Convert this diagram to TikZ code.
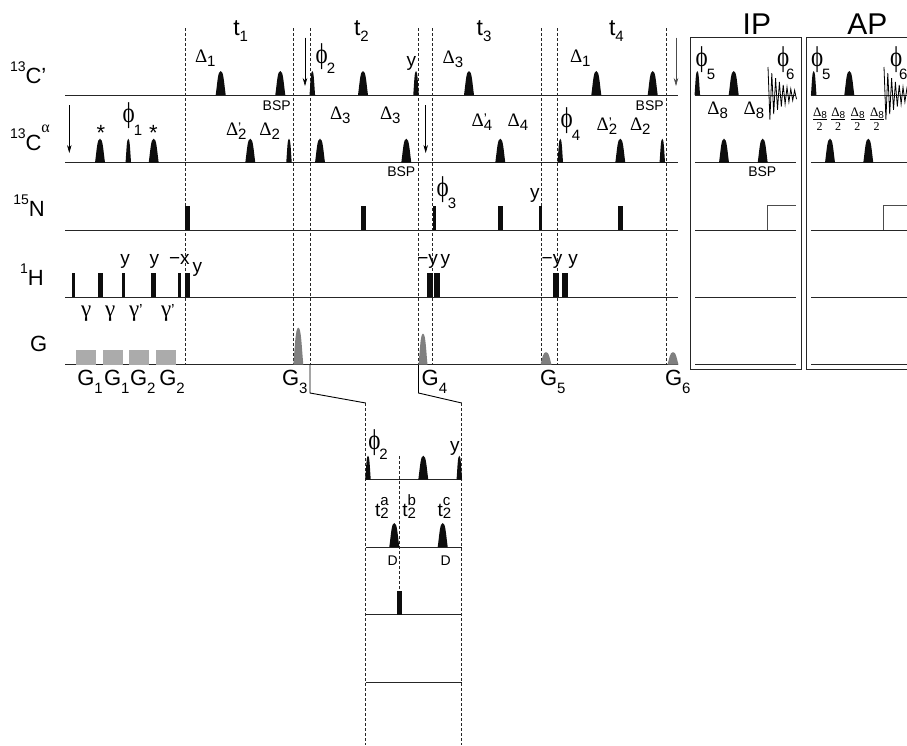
\documentclass[tikz,border=0pt]{standalone}
\usepackage{fontspec}
\setmainfont{Liberation Sans}
\newfontfamily\grk{Liberation Serif}
\usetikzlibrary{arrows.meta}
\newcommand{\fs}[1]{\fontsize{#1}{#1}\selectfont}
\newcommand{\dn}[2][4]{\raisebox{-#1pt}{\fs{15}#2}}
\newcommand{\iso}[1]{\raisebox{12pt}{\fs{14}#1}}
\newcommand{\dl}{{\grk\fs{19}Δ}}
\newcommand{\ph}{\scalebox{1.05}[1.3]{\grk\fs{22}ϕ}\kern-1pt}
\newcommand{\gm}{{\grk\fs{23}γ}}
\newcommand{\bell}[5][black!95]{\fill[#1] ({#2-#4/2},#3) .. controls ({#2-#4*0.32},{#3-#5*0.55}) and ({#2-#4*0.28},{#3-#5}) .. ({#2},{#3-#5}) .. controls ({#2+#4*0.28},{#3-#5}) and ({#2+#4*0.32},{#3-#5*0.55}) .. ({#2+#4/2},#3) -- cycle;}
\newcommand{\fid}[1]{\draw[fidline] plot[domain=0:15, samples=16] ({#1+\x*1.9},{95-28*exp(-\x*1.9/15)*cos(180*\x)});}
\begin{document}
\begin{tikzpicture}[
    x=1pt, y=-1pt,
    every node/.style={inner sep=0pt, outer sep=0pt, anchor=base west},
    lab/.style={font=\fs{22}},
    ysym/.style={font=\fs{19}},
    bsp/.style={font=\fs{14}},
    chan/.style={line width=0.8pt, black!85},
    guide/.style={line width=0.8pt, dash pattern=on 2.5pt off 2.5pt, black!85},
    link/.style={line width=0.9pt, black},
    flip/.style={-{Stealth[length=8pt, width=4.5pt]}, line width=0.6pt},
    framebox/.style={line width=0.9pt, black!85},
    fidline/.style={line width=0.8pt, black},
    hardp/.style={fill=black!95}
]
\useasboundingbox (0,0) rectangle (907,745);
\clip (0,0) rectangle (907,745);

\node[lab] (cp) at (10,83) {\iso{13}C'};
\node[lab] (ca) at (10,150) {\iso{13}C\raisebox{18pt}{\grk\fs{16}α}};
\node[lab] (nn) at (13.3,216.7) {\iso{15}N};
\node[lab] (hh) at (20,285) {\iso{1}H};
\node[lab] (gg) at (30,351.7) {G};

\foreach \y in {95,162.7,230,297,364.7} {
  \draw[chan] (65,\y) -- (678,\y);
  \draw[chan] (695,\y) -- (796.3,\y);
  \draw[chan] (811,\y) -- (907,\y);
}
\foreach \y in {479.7,547,614.7,682} \draw[chan] (365.7,\y) -- (461.7,\y);

\draw[framebox] (690.3,37.3) rectangle (801.3,369.3);
\draw[framebox] (907,37.3) -- (806,37.3) -- (806,369.3) -- (907,369.3);
\node[font=\fs{30}] (ip) at (742.7,34) {IP};
\node[font=\fs{30}] (ap) at (847.3,34) {AP};

\foreach \x in {185,293,310,418.5,432.7,541,557.7,666} \draw[guide] (\x,28) -- (\x,365);
\foreach \x in {365.7,461.7} \draw[guide] (\x,403) -- (\x,745);
\draw[guide] (399.3,456) -- (399.3,592);

\coordinate (fa) at (310,365);
\coordinate (fb) at (310,393);
\coordinate (fc) at (365.7,403);
\coordinate (fd) at (418.5,365);
\coordinate (fe) at (418.5,393);
\coordinate (ff) at (461.7,403);
\draw[link] (fa) -- (fb) -- (fc);
\draw[link] (fd) -- (fe) -- (ff);

\foreach \x/\a/\b in {305/37.7/86,69.3/105/153,425.7/105/153} \draw[flip] (\x,\a) -- (\x,\b);
\draw[flip, black!70] (676,37.7) -- (676,86);

\foreach \x in {220.7,280.3,363,469,596.3,652.7,733.7,849.3} \bell{\x}{95}{10}{24};
\foreach \x in {312.3,416,697.3,813.7} \bell{\x}{95}{5.5}{24};
\foreach \x in {100,153.7,250.3,320,406.3,500.3,620.3,724,762.7,830,868.3} \bell{\x}{162.7}{10}{24};
\foreach \x in {128.3,289,560.3,662.3} \bell{\x}{162.7}{5.5}{24};
\foreach \x in {368,459.3} \bell{\x}{479.7}{5.5}{24};
\bell{423.3}{479.7}{10}{24};
\foreach \x in {394.3,442.7} \bell{\x}{547}{10}{24};

\foreach \x/\w in {187.7/5.5,363.3/5,434.3/3.2,500.3/5,540.3/3,620.3/5} \fill[hardp] ({\x-\w/2},230) rectangle ({\x+\w/2},205.7);
\fill[hardp] (396.8,614.7) rectangle (401.8,591);
\foreach \x/\w in {73/3,100.7/5.5,123.7/3,153.7/5.5,179/3,187.7/5.5,430.3/6,437.3/6,555.7/6,565.3/6} \fill[hardp] ({\x-\w/2},297) rectangle ({\x+\w/2},272.7);

\foreach \a/\b in {76/96.3,102.7/123,129/149.3,155.7/176} \fill[black!33] (\a,364.7) rectangle (\b,349.7);
\foreach \x/\w/\h in {298.3/10/37,423/9/31,546/11/12.5,673/11/12.5} \bell[black!50]{\x}{364.7}{\w}{\h};

\draw[chan, black!70] (767.3,230) -- (767.3,205.7) -- (796.3,205.7);
\draw[chan, black!70] (883,230) -- (883,205.7) -- (907,205.7);
\fid{768}
\fid{884}

\foreach \n/\x in {1/233.3,2/354,3/476.7,4/609} \node[font=\fs{23}] (t\n) at (\x,35) {t\dn[6.5]{\n}};

\node (da) at (195,62) {\dl\dn{1}};
\node (db) at (226,135) {\dl\rlap{\raisebox{3pt}{\fs{14}'}}\dn{2}};
\node (dc) at (259.3,135) {\dl\dn{2}};
\node (dd) at (330,119.3) {\dl\dn{3}};
\node (de) at (380,119.3) {\dl\dn{3}};
\node (df) at (442.7,63.3) {\dl\dn{3}};
\node (dg) at (570,62) {\dl\dn{1}};
\node (dh) at (471.7,126.7) {\dl\rlap{\raisebox{3pt}{\fs{14}'}}\dn{4}};
\node (di) at (507.7,126.7) {\dl\dn{4}};
\node (dj) at (596.7,130.7) {\dl\rlap{\raisebox{3pt}{\fs{14}'}}\dn{2}};
\node (dk) at (630,130.7) {\dl\dn{2}};
\node (dm) at (707.3,114) {\dl\dn{8}};
\node (dn) at (743.7,114) {\dl\dn{8}};

\foreach \n/\x in {a/813,b/831.3,c/850.7,d/870} {
  \node (half\n) at (\x,116.7) {\grk\fs{13}Δ\raisebox{-2pt}{\fs{10}\rmfamily 8}};
  \draw[line width=0.6pt] (\x,119.3) -- ++(14,0);
  \node[font=\fs{12}\grk] (two\n) at (\x+3.7,130.7) {2};
}

\node (pa) at (122.7,122.7) {\ph\dn[13]{1}};
\node (pb) at (315.7,63.3) {\ph\dn[10]{2}};
\node (pc) at (436.7,196.7) {\ph\dn[12]{3}};
\node (pd) at (560.7,127.7) {\ph\dn[13]{4}};
\node (pe) at (695.7,66) {\ph\dn[13]{5}};
\node (pf) at (777,66) {\ph\kern-2pt\dn[13]{6}};
\node (pg) at (811,66) {\ph\dn[13]{5}};
\node (ph) at (890,66) {\ph\kern-2pt\dn[13]{6}};
\node (pi) at (368.3,449.3) {\ph\dn[10]{2}};

\foreach \n/\x/\y/\s in {a/406.7/66/y,b/530/198/y,c/120.3/264/y,d/149.7/264/y,e/169/264/{−x},f/192.7/272.7/y,g/417.3/264/{−y},h/440.7/264/y,i/541.7/264/{−y},j/568.3/264/y,k/450/451/y} \node[ysym] (y\n) at (\x,\y) {\s};

\foreach \n/\x in {a/96.5,b/149.2} \node[font=\fs{22}] (star\n) at (\x,140) {*};

\node (ga) at (81,316) {\gm};
\node (gb) at (105,316) {\gm};
\node (gc) at (129,316) {\gm\raisebox{1pt}{\fs{16}'}};
\node (gd) at (161,316) {\gm\raisebox{1pt}{\fs{16}'}};

\foreach \n/\x/\y in {a/262.7/110,b/387.3/176.7,c/635.7/110,d/748.3/176.7} \node[bsp] (bsp\n) at (\x,\y) {BSP};

\foreach \n/\t/\x in {a/1/77.3,b/1/104,c/2/130,d/2/159.3,e/3/282,f/4/421.7,g/5/540,h/6/665} \node[lab] (grad\n) at (\x,385.7) {G\dn[7.7]{\t}};

\foreach \n/\s/\x in {a/a/375,b/b/402.3,c/c/437.7} \node[font=\fs{19}] (mid\n) at (\x,516) {t\rlap{\raisebox{11pt}{\fs{15}\s}}\dn[2]{2}};
\node[bsp] (dna) at (387.7,565) {D};
\node[bsp] (dnb) at (440.7,565) {D};
\end{tikzpicture}
\end{document}
